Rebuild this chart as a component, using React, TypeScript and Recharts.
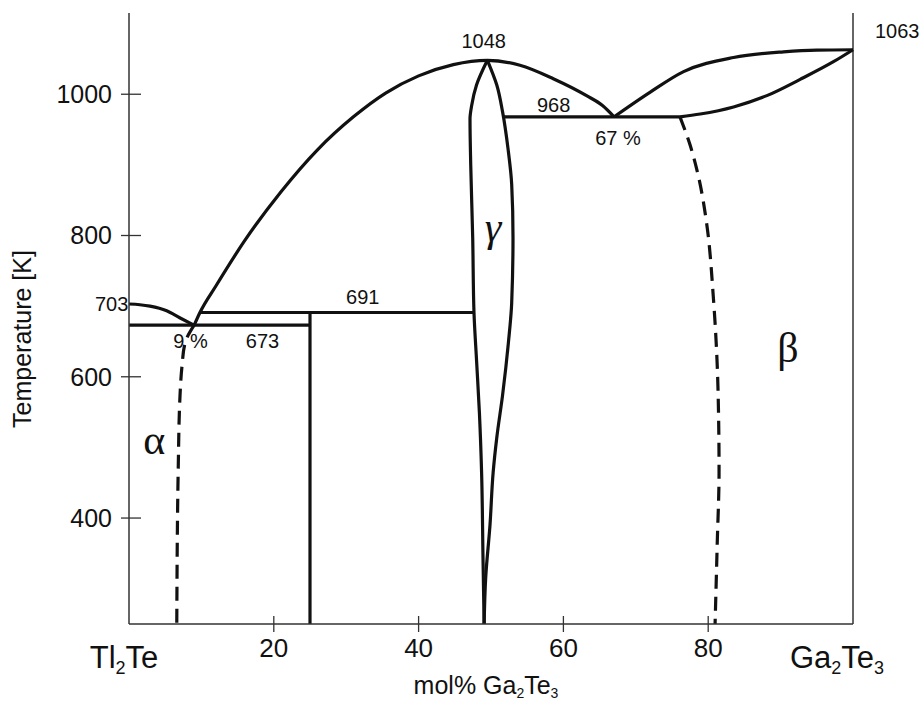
import React from 'react';
import { LineChart, Line, XAxis, YAxis, ReferenceLine, ReferenceDot, Label } from 'recharts';

document.body.style.margin = '0';
document.body.style.overflow = 'hidden';

// x = mol% Ga2Te3, t = temperature [K]
const liquidusTl2Te = [
  { x: 0, t: 703 },
  { x: 1.5, t: 702 },
  { x: 2.9, t: 700 },
  { x: 5.2, t: 693.4 },
  { x: 7.0, t: 683.6 },
  { x: 9, t: 673 },
];

const liquidusDome = [
  { x: 9, t: 673 },
  { x: 9.8, t: 691 },
  { x: 12, t: 728.5 },
  { x: 16, t: 793 },
  { x: 21, t: 862 },
  { x: 26, t: 921 },
  { x: 31, t: 968 },
  { x: 35.5, t: 1002 },
  { x: 40, t: 1026 },
  { x: 44.8, t: 1042 },
  { x: 49.5, t: 1048 },
  { x: 54.0, t: 1041 },
  { x: 58.6, t: 1022 },
  { x: 63.2, t: 998 },
  { x: 65.4, t: 984 },
  { x: 67, t: 968 },
];

const gammaLeft = [
  { x: 49.5, t: 1048 },
  { x: 48.0, t: 1013 },
  { x: 47.33, t: 984 },
  { x: 47.1, t: 965 },
  { x: 47.2, t: 900 },
  { x: 47.47, t: 798 },
  { x: 47.65, t: 691 },
  { x: 48.0, t: 624 },
  { x: 48.4, t: 549 },
  { x: 48.7, t: 465 },
  { x: 48.9, t: 341 },
  { x: 49.05, t: 250 },
];

const gammaRight = [
  { x: 49.5, t: 1048 },
  { x: 50.8, t: 1013 },
  { x: 51.6, t: 975 },
  { x: 52.35, t: 923 },
  { x: 52.86, t: 872 },
  { x: 53.04, t: 798 },
  { x: 52.86, t: 705 },
  { x: 52.4, t: 648 },
  { x: 51.6, t: 574 },
  { x: 50.8, t: 514 },
  { x: 50.3, t: 465 },
  { x: 49.86, t: 390 },
  { x: 49.27, t: 316 },
  { x: 49.05, t: 250 },
];

const lensUpper = [
  { x: 67, t: 968 },
  { x: 72.0, t: 1003 },
  { x: 76.6, t: 1032 },
  { x: 83.5, t: 1052 },
  { x: 90.4, t: 1060 },
  { x: 95.0, t: 1062.5 },
  { x: 100, t: 1063 },
];

const lensLower = [
  { x: 76.1, t: 968 },
  { x: 78.9, t: 972 },
  { x: 83.5, t: 982 },
  { x: 88.1, t: 998 },
  { x: 92.7, t: 1021 },
  { x: 97.3, t: 1046 },
  { x: 100, t: 1063 },
];

const eutectic673 = [{ x: 0, t: 673 }, { x: 25, t: 673 }];
const peritectic691 = [{ x: 9.8, t: 691 }, { x: 47.65, t: 691 }];
const compound25 = [{ x: 25, t: 691 }, { x: 25, t: 250 }];
const eutectic968 = [{ x: 51.7, t: 968 }, { x: 76.1, t: 968 }];

const solvusAlpha = [
  { x: 9, t: 673 },
  { x: 7.75, t: 648 },
  { x: 7.3, t: 613 },
  { x: 7.05, t: 574 },
  { x: 6.8, t: 470 },
  { x: 6.6, t: 250 },
];

const solvusBeta = [
  { x: 76.1, t: 968 },
  { x: 77.5, t: 928 },
  { x: 78.6, t: 886 },
  { x: 79.8, t: 816 },
  { x: 80.7, t: 714 },
  { x: 81.35, t: 584 },
  { x: 81.5, t: 465 },
  { x: 81.25, t: 365 },
  { x: 80.95, t: 250 },
];

const numberLabels = [
  { x: 49.0, t: 1075, text: '1048' },
  { x: 58.66, t: 985.5, text: '968' },
  { x: 67.54, t: 938, text: '67 %' },
  { x: 106.1, t: 1090, text: '1063' },
  { x: -2.39, t: 703, text: '703' },
  { x: 8.49, t: 650.6, text: '9 %' },
  { x: 18.44, t: 650.6, text: '673' },
  { x: 32.28, t: 713.6, text: '691' },
];

const phaseLabels = [
  { x: 3.48, t: 512, text: 'α' },
  { x: 50.28, t: 813.5, text: 'γ' },
  { x: 91.0, t: 642.2, text: 'β' },
];

const xTicks = [0, 20, 40, 60, 80, 100];
const xTickLabels = ['Tl2Te', '20', '40', '60', '80', 'Ga2Te3'];
const yTicks = [400, 600, 800, 1000];

const INK = '#111';
const AXIS = '#333';
const FONT = '"Liberation Sans", Arial, Helvetica, sans-serif';
const SERIF = '"Liberation Serif", "Times New Roman", serif';

// digits in a formula become subscripts
function Formula({ text, size, shiftRatio = 0.19 }: { text: string; size: number; shiftRatio?: number }) {
  const parts = text.match(/\d+|[^\d]+/g) ?? [];
  const shift = Math.round(size * shiftRatio);
  let down = false;
  return (
    <>
      {parts.map((p, i) => {
        const sub = /^\d+$/.test(p);
        let dy = 0;
        if (sub && !down) {
          dy = shift;
          down = true;
        } else if (!sub && down) {
          dy = -shift;
          down = false;
        }
        return (
          <tspan key={i} dy={dy || undefined} fontSize={sub ? Math.round(size * 0.58) : size}>
            {p}
          </tspan>
        );
      })}
    </>
  );
}

const XTick = (props: any) => {
  const { x, y, payload } = props;
  const label = xTickLabels[xTicks.indexOf(payload.value)];
  if (payload.value === 0 || payload.value === 100) {
    const dx = payload.value === 0 ? -5 : -16;
    return (
      <text x={x + dx} y={y + 44} textAnchor="middle" fontFamily={FONT} fill={INK}>
        <Formula text={label} size={31} />
      </text>
    );
  }
  return (
    <g>
      <line x1={x} x2={x} y1={y - 8} y2={y + 8} stroke={AXIS} strokeWidth={1.3} />
      <text x={x} y={y + 15} dy="0.71em" textAnchor="middle" fontSize={26} fontFamily={FONT} fill={INK}>
        {label}
      </text>
    </g>
  );
};

const YTick = (props: any) => {
  const { x, y, payload } = props;
  return (
    <g>
      <line x1={x - 8} x2={x + 12} y1={y} y2={y} stroke={AXIS} strokeWidth={1.3} />
      <text x={x - 17} y={y} dy="0.355em" textAnchor="end" fontSize={25} fontFamily={FONT} fill={INK}>
        {payload.value}
      </text>
    </g>
  );
};

const solid = {
  dataKey: 't',
  stroke: INK,
  strokeWidth: 3.2,
  dot: false,
  activeDot: false,
  isAnimationActive: false,
  legendType: 'none' as const,
};

export default function App() {
  return (
    <LineChart width={922} height={701} margin={{ top: 13, right: 69, bottom: 0, left: 0 }}>
      <XAxis
        dataKey="x"
        type="number"
        domain={[0, 100]}
        ticks={xTicks}
        interval={0}
        tickSize={0}
        tickMargin={0}
        tickLine={false}
        axisLine={{ stroke: AXIS, strokeWidth: 1.5 }}
        height={77}
        tick={XTick}
      >
        <Label
          content={(p: any) => {
            const vb = p.viewBox || { x: 129, y: 624, width: 724 };
            return (
              <text x={vb.x + vb.width / 2 - 5} y={vb.y + 70} textAnchor="middle" fontFamily={FONT} fill={INK}>
                <Formula text="mol% Ga2Te3" size={25} shiftRatio={0.16} />
              </text>
            );
          }}
        />
      </XAxis>
      <YAxis
        type="number"
        domain={[250, 1115]}
        ticks={yTicks}
        interval={0}
        tickSize={0}
        tickMargin={0}
        tickLine={false}
        axisLine={{ stroke: AXIS, strokeWidth: 1.5 }}
        width={129}
        tick={YTick}
      >
        <Label
          content={(p: any) => {
            const vb = p.viewBox || { x: 0, y: 13, height: 611 };
            const cx = vb.x + 31;
            const cy = vb.y + vb.height / 2 + 20.5;
            return (
              <text
                x={cx}
                y={cy}
                transform={`rotate(-90 ${cx} ${cy})`}
                textAnchor="middle"
                fontSize={25}
                fontFamily={FONT}
                fill={INK}
              >
                Temperature [K]
              </text>
            );
          }}
        />
      </YAxis>

      <ReferenceLine x={100} stroke={AXIS} strokeWidth={1.5} />

      <Line name="liquidus Tl2Te" data={liquidusTl2Te} type="monotoneX" {...solid} />
      <Line name="liquidus dome" data={liquidusDome} type="monotoneX" {...solid} />
      <Line name="eutectic 673" data={eutectic673} type="linear" {...solid} />
      <Line name="peritectic 691" data={peritectic691} type="linear" {...solid} />
      <Line name="compound 25" data={compound25} type="linear" {...solid} />
      <Line name="gamma left" data={gammaLeft} type="monotoneY" {...solid} />
      <Line name="gamma right" data={gammaRight} type="monotoneY" {...solid} />
      <Line name="eutectic 968" data={eutectic968} type="linear" {...solid} />
      <Line name="lens upper" data={lensUpper} type="monotoneX" {...solid} />
      <Line name="lens lower" data={lensLower} type="monotoneX" {...solid} />
      <Line name="solvus alpha" data={solvusAlpha} type="monotoneY" strokeDasharray="14 8" {...solid} />
      <Line name="solvus beta" data={solvusBeta} type="monotoneY" strokeDasharray="14 8" {...solid} />

      {numberLabels.map((l) => (
        <ReferenceDot
          key={l.text}
          x={l.x}
          y={l.t}
          r={0}
          ifOverflow="visible"
          stroke="none"
          fill="none"
          label={{ value: l.text, position: 'center', fontSize: 20, fill: INK, fontFamily: FONT }}
        />
      ))}
      {phaseLabels.map((l) => (
        <ReferenceDot
          key={l.text}
          x={l.x}
          y={l.t}
          r={0}
          ifOverflow="visible"
          stroke="none"
          fill="none"
          label={{
            value: l.text,
            position: 'center',
            fontSize: 42,
            fill: INK,
            fontFamily: SERIF,
            fontStyle: l.text === 'γ' ? 'italic' : 'normal',
          }}
        />
      ))}
    </LineChart>
  );
}
